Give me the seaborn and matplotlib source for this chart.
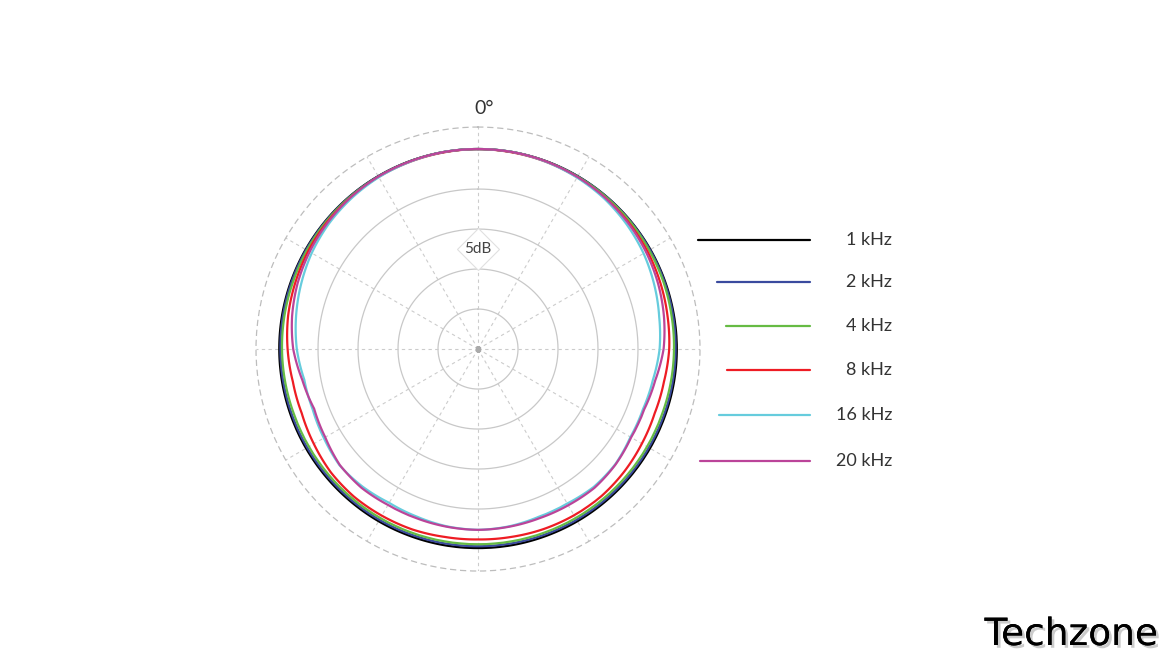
import matplotlib
matplotlib.use("Agg")
import matplotlib.pyplot as plt
import matplotlib.patheffects as pe
from matplotlib.lines import Line2D
import seaborn as sns
import numpy as np
import pandas as pd

# angles (deg, clockwise from front) and response in dB relative to 0 deg
angles = list(range(0, 360, 10))
khz1 = [0, 0, -0.02, -0.05, -0.08, -0.1, -0.12, -0.14, -0.15, -0.15, -0.16, -0.18, -0.18, -0.18, -0.17, -0.15, -0.14, -0.12,
        -0.12, -0.12, -0.14, -0.15, -0.17, -0.18, -0.18, -0.18, -0.17, -0.16, -0.15, -0.14, -0.12, -0.1, -0.07, -0.05, -0.02, 0]
khz2 = [0, 0, -0.03, -0.06, -0.1, -0.14, -0.18, -0.22, -0.26, -0.3, -0.32, -0.34, -0.35, -0.35, -0.35, -0.35, -0.35, -0.35,
        -0.35, -0.35, -0.35, -0.35, -0.36, -0.36, -0.35, -0.34, -0.32, -0.3, -0.27, -0.23, -0.19, -0.15, -0.1, -0.06, -0.03, 0]
khz4 = [0, 0, -0.05, -0.1, -0.15, -0.2, -0.3, -0.35, -0.45, -0.5, -0.55, -0.6, -0.6, -0.6, -0.6, -0.6, -0.6, -0.6,
        -0.6, -0.6, -0.6, -0.6, -0.6, -0.6, -0.6, -0.6, -0.55, -0.5, -0.45, -0.4, -0.3, -0.22, -0.15, -0.1, -0.05, 0]
khz8 = [0, -0.05, -0.1, -0.2, -0.3, -0.4, -0.55, -0.75, -0.95, -1.1, -1.4, -1.5, -1.35, -1.15, -1.0, -1.0, -1.05, -1.15,
        -1.2, -1.15, -1.0, -0.95, -0.9, -1.0, -1.3, -1.55, -1.5, -1.2, -0.9, -0.7, -0.5, -0.35, -0.25, -0.15, -0.1, -0.05]
khz16 = [0, 0, -0.1, -0.25, -0.45, -0.75, -1.1, -1.55, -2.0, -2.3, -2.8, -3.05, -3.0, -2.6, -2.5, -2.7, -2.7, -2.5,
         -2.4, -2.5, -2.7, -2.8, -2.55, -2.4, -2.75, -3.0, -2.95, -2.35, -1.9, -1.45, -1.0, -0.65, -0.4, -0.2, -0.1, 0]
khz20 = [0, 0, -0.05, -0.15, -0.3, -0.5, -0.75, -1.05, -1.4, -1.8, -2.5, -2.9, -2.9, -2.55, -2.35, -2.45, -2.5, -2.45,
         -2.4, -2.45, -2.5, -2.5, -2.35, -2.45, -2.95, -3.2, -2.7, -1.9, -1.4, -1.0, -0.7, -0.45, -0.25, -0.1, -0.05, 0]

labels = ["1 kHz", "2 kHz", "4 kHz", "8 kHz", "16 kHz", "20 kHz"]
colors = ["#000000", "#3a4a9e", "#66bb44", "#ee1c24", "#66ccdd", "#bb4499"]
series = [khz1, khz2, khz4, khz8, khz16, khz20]

rows = []
for lab, vals in zip(labels, series):
    for a, v in zip(angles + [360], vals + [vals[0]]):
        rows.append({"theta": np.deg2rad(a), "db": v, "freq": lab})
df = pd.DataFrame(rows)

sns.set_theme(style="white")
plt.rcParams["font.family"] = ["Lato", "DejaVu Sans"]

fig = plt.figure(figsize=(11.7, 6.6), dpi=100)
ax = fig.add_axes([0.2188, 0.1348, 0.3795, 0.6727], projection="polar")
ax.set_theta_zero_location("N")
ax.set_theta_direction(-1)
ax.set_ylim(-25, 2.75)

# grid
ax.grid(False)
for r in [-20, -15, -10, -5]:
    ax.plot(np.linspace(0, 2 * np.pi, 361), [r] * 361, color="#c8c8c8", lw=0.9, zorder=1)
for a in range(0, 360, 30):
    ax.plot([np.deg2rad(a)] * 2, [-25, 2.75], color="#cccccc", lw=0.8,
            ls=(0, (3, 3)), zorder=1)
ax.spines["polar"].set_color("#bdbdbd")
ax.spines["polar"].set_linestyle((0, (4, 4)))
ax.spines["polar"].set_linewidth(0.9)
ax.set_xticks([])
ax.set_yticks([])
ax.plot(0, -25, marker="s", ms=3, color="#aaaaaa", zorder=2)

n_before = len(ax.lines)
sns.lineplot(data=df, x="theta", y="db", hue="freq", palette=colors,
             hue_order=labels, sort=False, estimator=None, lw=1.6,
             legend=False, ax=ax, zorder=3)
# draw the segments along the polar grid instead of straight chords
for ln in ax.lines[n_before:]:
    ln.get_path()._interpolation_steps = 30
ax.set_xlabel("")
ax.set_ylabel("")

# 5dB label
ax.plot(0, -12.5, marker="D", ms=21, mfc="white", mec="#e0e0e0", mew=0.8, zorder=2)
ax.text(0, -12.5, "5dB", ha="center", va="center", fontsize=11, color="#444444", zorder=4)

fig.text(484 / 1170, 1 - 108 / 660, "0°", ha="center", va="center", fontsize=14, color="#333333")

# legend
leg_y = [240, 282, 326, 370, 415, 461]
leg_x0 = [698, 717, 726, 727, 719, 700]
for lab, col, y, x0 in zip(labels, colors, leg_y, leg_x0):
    fig.add_artist(Line2D([x0 / 1170, 810 / 1170], [1 - y / 660] * 2, color=col, lw=1.6))
    fig.text(892 / 1170, 1 - y / 660, lab, ha="right", va="center", fontsize=13, color="#333333")

fig.text(1158 / 1170, 1 - 635 / 660, "Techzone", ha="right", va="center", fontsize=27,
         color="black", family="DejaVu Sans",
         path_effects=[pe.withSimplePatchShadow(offset=(2, -2), shadow_rgbFace="#999999", alpha=0.5),
                       pe.Normal()])

fig.savefig("out.png", dpi=100, facecolor="white")
